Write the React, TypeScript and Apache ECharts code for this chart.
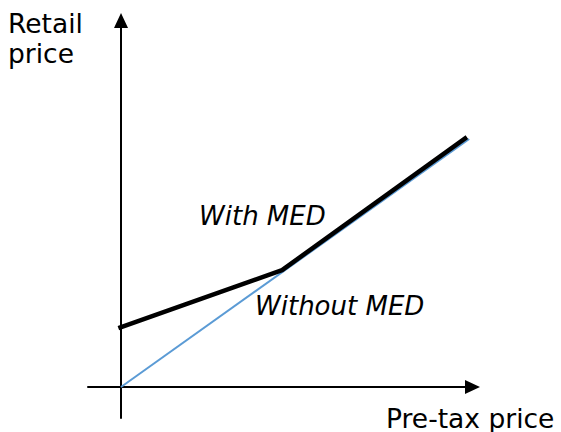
import React, { useEffect, useRef } from "react";
import * as echarts from "echarts";

// Data (arbitrary units: pre-tax price on x, retail price on y)
const withoutMedX = [0, 10.55];
const withoutMedY = [0, 8.0];
const withMedX = [-0.08, 4.88, 10.48];
const withMedY = [1.9, 3.77, 8.06];

const xAxisTitle = "Pre-tax price";
const yAxisTitle = ["Retail", "price"];
const seriesLabels = ["With MED", "Without MED"];

const FONT = "DejaVu Sans, Verdana, sans-serif";

export default function App() {
  const ref = useRef<HTMLDivElement>(null);
  useEffect(() => {
    if (!ref.current) return;
    const chart = echarts.init(ref.current, undefined, { renderer: "svg" });
    const axisLineStyle = { color: "#000", width: 2 };
    chart.setOption({
      animation: false,
      grid: { left: 88, top: 20.5, width: 384.5, height: 397.5, containLabel: false },
      xAxis: {
        type: "value",
        min: -1,
        max: 10.65,
        axisLine: {
          show: true,
          onZero: true,
          lineStyle: axisLineStyle,
          symbol: ["none", "triangle"],
          symbolSize: [14, 15],
        },
        axisTick: { show: false },
        axisLabel: { show: false },
        splitLine: { show: false },
      },
      yAxis: {
        type: "value",
        min: -1,
        max: 11.82,
        axisLine: {
          show: true,
          onZero: true,
          lineStyle: axisLineStyle,
          symbol: ["none", "triangle"],
          symbolSize: [14, 15],
        },
        axisTick: { show: false },
        axisLabel: { show: false },
        splitLine: { show: false },
      },
      series: [
        {
          name: seriesLabels[1],
          type: "line",
          data: withoutMedX.map((x, i) => [x, withoutMedY[i]]),
          showSymbol: false,
          symbol: "none",
          lineStyle: { color: "#5B9BD5", width: 2 },
          z: 2,
        },
        {
          name: seriesLabels[0],
          type: "line",
          data: withMedX.map((x, i) => [x, withMedY[i]]),
          showSymbol: false,
          symbol: "none",
          lineStyle: { color: "#000", width: 4.5, join: "round" },
          z: 3,
        },
      ],
      graphic: [
        {
          type: "text",
          left: 8,
          top: 9.5,
          style: { text: yAxisTitle[0], font: `26.5px ${FONT}`, fill: "#000" },
        },
        {
          type: "text",
          left: 8,
          top: 39.5,
          style: { text: yAxisTitle[1], font: `26.5px ${FONT}`, fill: "#000" },
        },
        {
          type: "text",
          left: 386,
          top: 404.5,
          style: { text: xAxisTitle, font: `26.5px ${FONT}`, fill: "#000" },
        },
        {
          type: "text",
          left: 199,
          top: 203,
          style: { text: seriesLabels[0], font: `italic 26px ${FONT}`, fill: "#000" },
        },
        {
          type: "text",
          left: 255,
          top: 292.5,
          style: { text: seriesLabels[1], font: `italic 26px ${FONT}`, fill: "#000" },
        },
      ],
    });
    return () => chart.dispose();
  }, []);
  return <div ref={ref} style={{ width: 561, height: 432, position: "absolute", left: 0, top: 0 }} />;
}
